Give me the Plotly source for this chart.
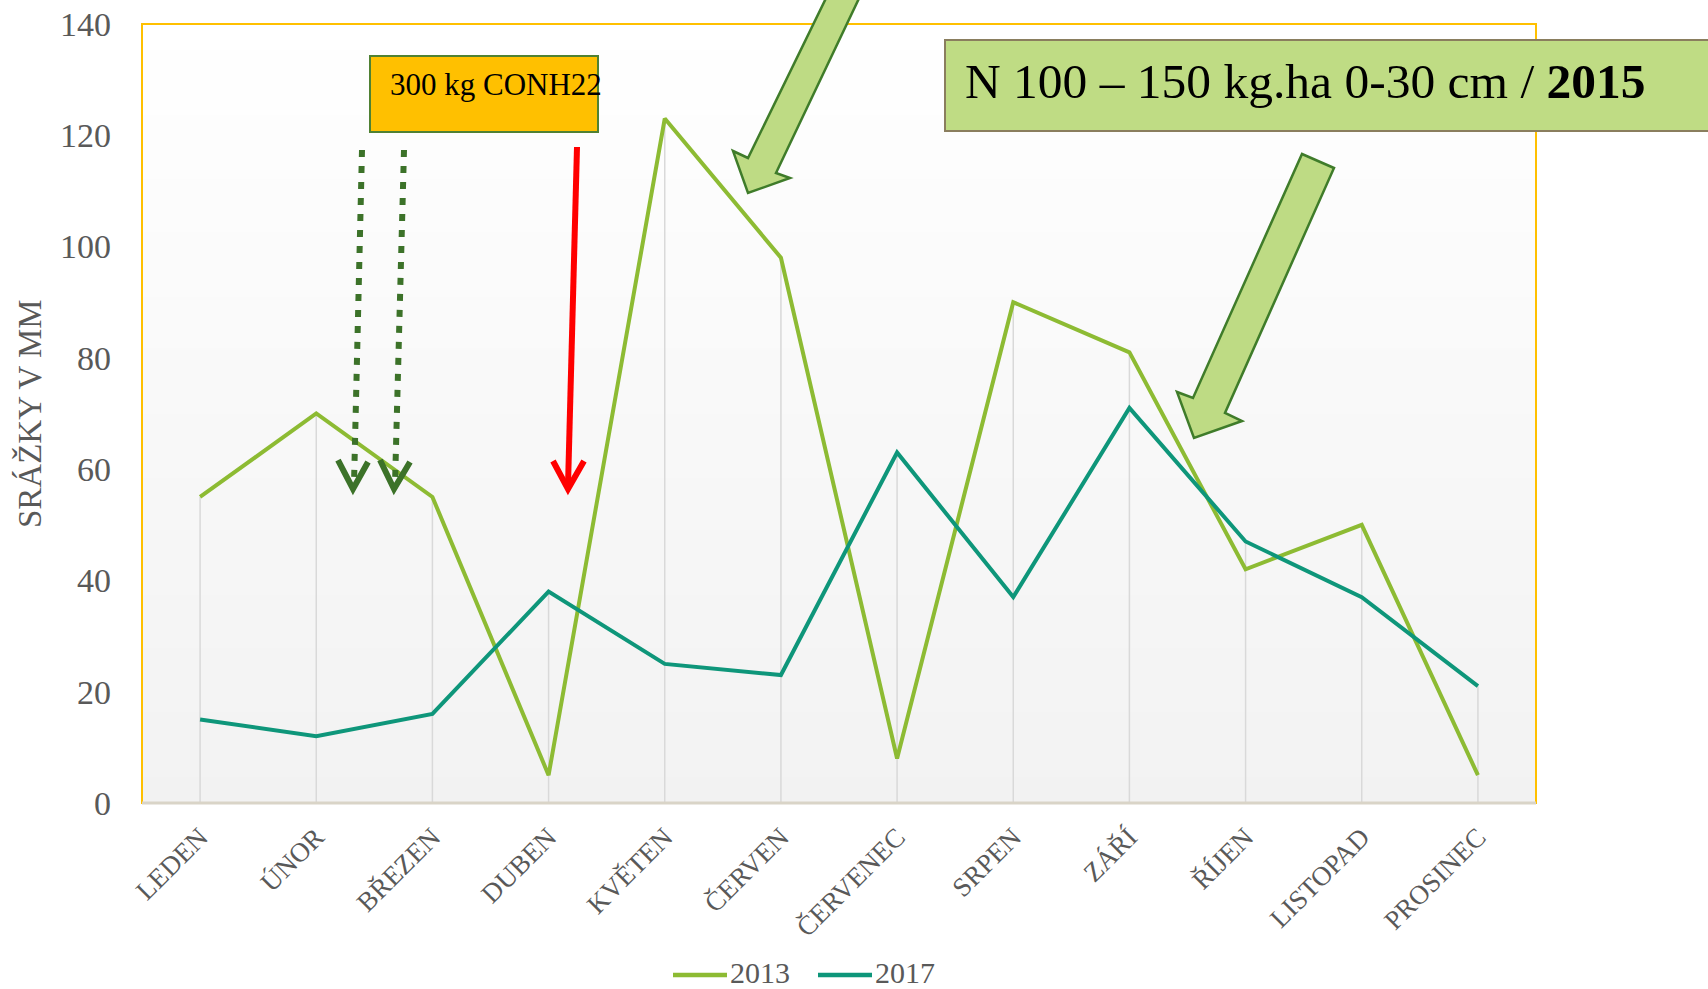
import plotly.graph_objects as go

# ---------------- data ----------------
months = ["LEDEN", "ÚNOR", "BŘEZEN", "DUBEN", "KVĚTEN", "ČERVEN",
          "ČERVENEC", "SRPEN", "ZÁŘÍ", "ŘÍJEN", "LISTOPAD", "PROSINEC"]
rain_2013 = [55, 70, 55, 5, 123, 98, 8, 90, 81, 42, 50, 5]
rain_2017 = [15, 12, 16, 38, 25, 23, 63, 37, 71, 47, 37, 21]
series_names = ["2013", "2017"]
y_ticks = [0, 20, 40, 60, 80, 100, 120, 140]
y_title = "SRÁŽKY V MM"
box1_text = "300 kg CONH22"
box2_text = "N 100 – 150 kg.ha 0-30 cm / <b>2015</b>"

# ---------------- styling ----------------
W, H = 1708, 989
FONT = "Liberation Serif"
GRAY = "#595959"
C2013 = "#8DBB33"
C2017 = "#0E967A"
ARROW_FILL = "#BEDB84"
ARROW_LINE = "#3F7C2A"
DOT_GREEN = "#3C7229"


def px(x):
    return x / W


def py(y):
    return 1 - y / H


X0, X1, Y0, Y1 = 142, 1536, 24, 803

fig = go.Figure()

# drop lines (from the higher value down to the axis)
dx, dy = [], []
for m, a, b in zip(months, rain_2013, rain_2017):
    dx += [m, m, None]
    dy += [max(a, b), 0, None]
fig.add_trace(go.Scatter(x=dx, y=dy, mode="lines", line=dict(color="#D9D9D9", width=1.5),
                         showlegend=False, hoverinfo="skip"))

fig.add_trace(go.Scatter(x=months, y=rain_2013, mode="lines", name=series_names[0],
                         line=dict(color=C2013, width=4), showlegend=False))
fig.add_trace(go.Scatter(x=months, y=rain_2017, mode="lines", name=series_names[1],
                         line=dict(color=C2017, width=4), showlegend=False))

shapes = []
# gradient background
N = 60
for i in range(N):
    t = (i + 0.5) / N
    c = int(round(242 + (255 - 242) * t))
    shapes.append(dict(type="rect", xref="x domain", yref="y domain", x0=0, x1=1,
                       y0=i / N, y1=(i + 1) / N + 0.002, fillcolor=f"rgb({c},{c},{c})",
                       line=dict(width=0), layer="below"))

# plot border
shapes.append(dict(type="rect", xref="paper", yref="paper", x0=px(X0), x1=px(X1),
                   y0=py(Y1), y1=py(Y0), line=dict(color="#FFC000", width=2),
                   fillcolor="rgba(0,0,0,0)"))
shapes.append(dict(type="line", xref="paper", yref="paper", x0=px(X0), x1=px(X1),
                   y0=py(Y1), y1=py(Y1), line=dict(color="#D9D4C7", width=3)))


def poly(points):
    s = "M " + " L ".join(f"{px(x):.5f},{py(y):.5f}" for x, y in points)
    return s + " Z"


def polyline(points):
    return "M " + " L ".join(f"{px(x):.5f},{py(y):.5f}" for x, y in points)


# big block arrows
arrow1 = [(830, -10), (863, -10), (776, 173), (790, 178), (748, 193), (733, 151), (748, 158)]
arrow2 = [(1302, 154), (1334, 168), (1225, 413), (1242, 421), (1194, 438), (1177, 392), (1193, 398)]
for a in (arrow1, arrow2):
    shapes.append(dict(type="path", xref="paper", yref="paper", path=poly(a),
                       fillcolor=ARROW_FILL, line=dict(color=ARROW_LINE, width=2.5)))

# dotted arrows
for (xt, yt, xb, yb), head in [((362, 150, 354, 484), [(338, 460), (353, 489), (368, 462)]),
                               ((404, 150, 395, 484), [(380, 460), (394, 489), (410, 462)])]:
    shapes.append(dict(type="line", xref="paper", yref="paper", x0=px(xt), y0=py(yt),
                       x1=px(xb), y1=py(yb), line=dict(color=DOT_GREEN, width=6, dash="7px,9px")))
    shapes.append(dict(type="path", xref="paper", yref="paper", path=polyline(head),
                       line=dict(color=DOT_GREEN, width=6)))

# red arrow
shapes.append(dict(type="line", xref="paper", yref="paper", x0=px(577), y0=py(147),
                   x1=px(568), y1=py(486), line=dict(color="#FF0000", width=6)))
shapes.append(dict(type="path", xref="paper", yref="paper",
                   path=polyline([(553, 461), (568, 489), (584, 461)]),
                   line=dict(color="#FF0000", width=6)))

# gold box
shapes.append(dict(type="rect", xref="paper", yref="paper", x0=px(370), x1=px(598),
                   y0=py(132), y1=py(56), fillcolor="#FFC000", line=dict(color="#4F8133", width=2)))
# green box
shapes.append(dict(type="rect", xref="paper", yref="paper", x0=px(945), x1=px(1715),
                   y0=py(131), y1=py(40), fillcolor="#BFDC84", line=dict(color="#8A7E5E", width=2)))

# manual legend lines
leg_lines = [(673, 727), (818, 872)]
leg_colors = [C2013, C2017]
for (a, b), c in zip(leg_lines, leg_colors):
    shapes.append(dict(type="line", xref="paper", yref="paper", x0=px(a), x1=px(b),
                       y0=py(975), y1=py(975), line=dict(color=c, width=4.5)))

annotations = [
    dict(text=box1_text, xref="paper", yref="paper", x=px(388), y=py(84), xanchor="left",
         yanchor="middle", showarrow=False, font=dict(family=FONT, size=31, color="black")),
    dict(text=box2_text, xref="paper", yref="paper", x=px(963), y=py(81), xanchor="left",
         yanchor="middle", showarrow=False, font=dict(family=FONT, size=49.5, color="black")),
    dict(text=y_title, xref="paper", yref="paper", x=px(30), y=py(414), xanchor="center",
         yanchor="middle", textangle=-90, showarrow=False,
         font=dict(family=FONT, size=33, color=GRAY)),
]
for name, xl in zip(series_names, [729, 874]):
    annotations.append(dict(text=name, xref="paper", yref="paper", x=px(xl), y=py(972),
                            xanchor="left", yanchor="middle", showarrow=False, borderpad=0,
                            font=dict(family=FONT, size=30, color=GRAY)))

fig.update_layout(
    width=W, height=H,
    margin=dict(l=0, r=0, t=0, b=0, autoexpand=False),
    paper_bgcolor="white", plot_bgcolor="white",
    showlegend=False,
    shapes=shapes, annotations=annotations,
    xaxis=dict(domain=[px(X0), px(X1)], type="category", range=[-0.5, 11.5],
               automargin=False,
               showgrid=False, zeroline=False, showline=False, ticks="",
               tickangle=-45, ticklabelstandoff=12,
               tickfont=dict(family=FONT, size=27, color=GRAY)),
    yaxis=dict(domain=[py(Y1), py(Y0)], range=[0, 140], tickvals=y_ticks,
               automargin=False,
               showgrid=False, zeroline=False, showline=False, ticks="",
               ticklabelstandoff=30,
               tickfont=dict(family=FONT, size=34, color=GRAY)),
)

fig.write_html("out.html", config={"displayModeBar": False},
               post_script="document.body.style.margin='0';document.body.style.overflow='hidden';")
